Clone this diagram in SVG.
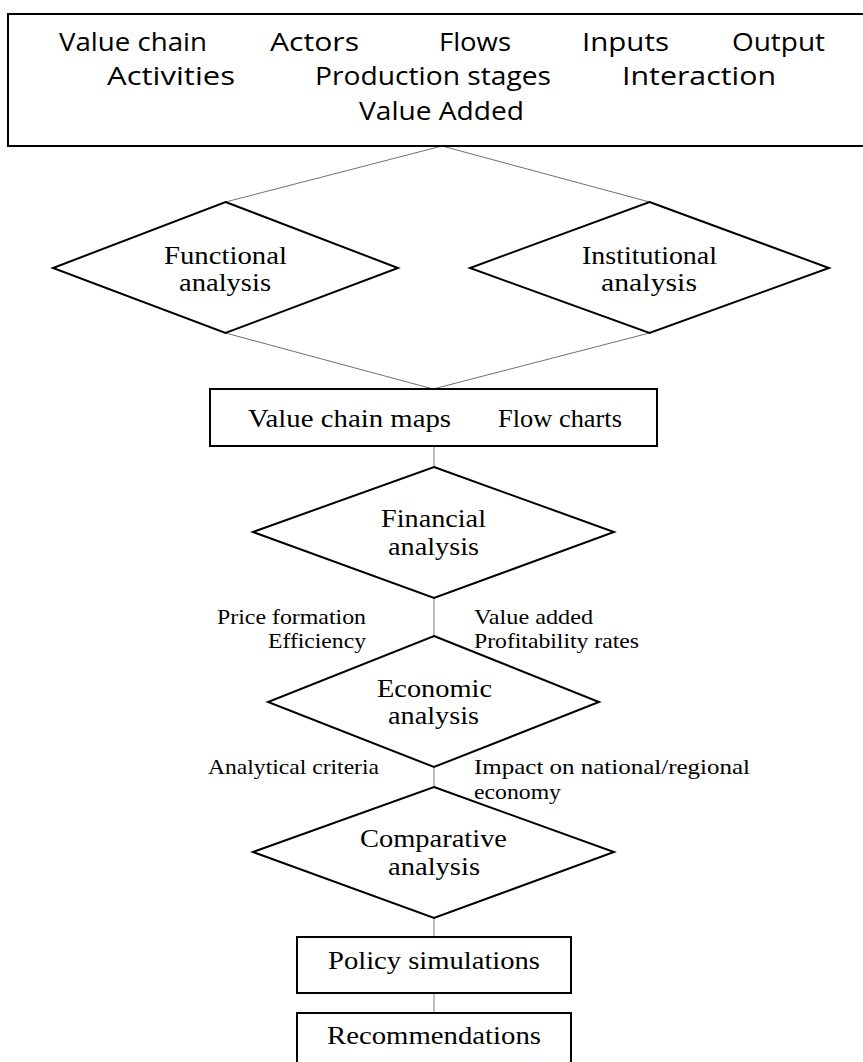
<svg xmlns="http://www.w3.org/2000/svg" width="863" height="1062" viewBox="0 0 863 1062">
  <style>
    .shape { fill: #ffffff; stroke: #000000; stroke-width: 2; }
    .hand { font-family: "Open Sans", "Liberation Sans", sans-serif; font-size: 26px; fill: #000; }
    .node { font-family: "Liberation Serif", "Times New Roman", serif; font-size: 26px; fill: #000; }
    .note { font-family: "Liberation Serif", "Times New Roman", serif; font-size: 21px; fill: #000; }
    .link { stroke: #707070; stroke-width: 1; fill: none; }
    .stem { stroke: #a8a8a8; stroke-width: 1.5; fill: none; }
  </style>

  <rect width="863" height="1062" fill="#ffffff"/>

  <!-- connectors -->
  <g id="connectors">
    <line class="link" x1="442" y1="146" x2="225.5" y2="202"/>
    <line class="link" x1="442" y1="146" x2="649.5" y2="202"/>
    <line class="link" x1="225.5" y1="333" x2="433" y2="389"/>
    <line class="link" x1="649.5" y1="333" x2="433" y2="389"/>
    <line class="stem" x1="434" y1="446" x2="434" y2="467"/>
    <line class="stem" x1="434" y1="598" x2="434" y2="636"/>
    <line class="stem" x1="434" y1="767" x2="434" y2="787"/>
    <line class="stem" x1="434" y1="918" x2="434" y2="937"/>
    <line class="stem" x1="434" y1="993" x2="434" y2="1013"/>
  </g>

  <!-- concepts box -->
  <g id="concepts">
    <rect class="shape" x="8" y="14" width="870" height="132"/>
    <text class="hand" x="59" y="51" textLength="148" lengthAdjust="spacingAndGlyphs">Value chain</text>
    <text class="hand" x="270" y="51" textLength="89" lengthAdjust="spacingAndGlyphs">Actors</text>
    <text class="hand" x="439" y="51" textLength="72" lengthAdjust="spacingAndGlyphs">Flows</text>
    <text class="hand" x="582" y="51" textLength="87" lengthAdjust="spacingAndGlyphs">Inputs</text>
    <text class="hand" x="732" y="51" textLength="93" lengthAdjust="spacingAndGlyphs">Output</text>
    <text class="hand" x="107" y="85" textLength="128" lengthAdjust="spacingAndGlyphs">Activities</text>
    <text class="hand" x="315" y="85" textLength="236" lengthAdjust="spacingAndGlyphs">Production stages</text>
    <text class="hand" x="622" y="85" textLength="154" lengthAdjust="spacingAndGlyphs">Interaction</text>
    <text class="hand" x="359" y="120" textLength="165" lengthAdjust="spacingAndGlyphs">Value Added</text>
  </g>

  <!-- functional analysis -->
  <g id="functional">
    <polygon class="shape" points="225.5,202 398,268 225.5,333 53,268"/>
    <text class="node" x="164" y="264" textLength="123" lengthAdjust="spacingAndGlyphs">Functional</text>
    <text class="node" x="179" y="291" textLength="92" lengthAdjust="spacingAndGlyphs">analysis</text>
  </g>

  <!-- institutional analysis -->
  <g id="institutional">
    <polygon class="shape" points="649.5,202 829,268 649.5,333 470,268"/>
    <text class="node" x="582" y="264" textLength="135" lengthAdjust="spacingAndGlyphs">Institutional</text>
    <text class="node" x="601" y="291" textLength="96" lengthAdjust="spacingAndGlyphs">analysis</text>
  </g>

  <!-- maps and charts -->
  <g id="maps">
    <rect class="shape" x="210" y="389" width="447" height="57"/>
    <text class="node" x="248" y="427" textLength="203" lengthAdjust="spacingAndGlyphs">Value chain maps</text>
    <text class="node" x="498" y="427" textLength="124" lengthAdjust="spacingAndGlyphs">Flow charts</text>
  </g>

  <!-- financial analysis -->
  <g id="financial">
    <polygon class="shape" points="434,467 614,532 434,598 253,532"/>
    <text class="node" x="381" y="527" textLength="105" lengthAdjust="spacingAndGlyphs">Financial</text>
    <text class="node" x="388" y="555" textLength="91" lengthAdjust="spacingAndGlyphs">analysis</text>
  </g>

  <!-- notes between financial and economic -->
  <g id="financial-notes">
    <text class="note" x="217" y="624" textLength="149" lengthAdjust="spacingAndGlyphs">Price formation</text>
    <text class="note" x="268" y="648" textLength="98" lengthAdjust="spacingAndGlyphs">Efficiency</text>
    <text class="note" x="474" y="624" textLength="119" lengthAdjust="spacingAndGlyphs">Value added</text>
    <text class="note" x="474" y="648" textLength="165" lengthAdjust="spacingAndGlyphs">Profitability rates</text>
  </g>

  <!-- economic analysis -->
  <g id="economic">
    <polygon class="shape" points="434,636 599,702 434,767 268,702"/>
    <text class="node" x="377" y="697" textLength="115" lengthAdjust="spacingAndGlyphs">Economic</text>
    <text class="node" x="388" y="724" textLength="91" lengthAdjust="spacingAndGlyphs">analysis</text>
  </g>

  <!-- notes between economic and comparative -->
  <g id="economic-notes">
    <text class="note" x="208" y="774" textLength="171" lengthAdjust="spacingAndGlyphs">Analytical criteria</text>
    <text class="note" x="474" y="774" textLength="276" lengthAdjust="spacingAndGlyphs">Impact on national/regional</text>
    <text class="note" x="474" y="799" textLength="87" lengthAdjust="spacingAndGlyphs">economy</text>
  </g>

  <!-- comparative analysis -->
  <g id="comparative">
    <polygon class="shape" points="434,787 614,852 434,918 253,852"/>
    <text class="node" x="360" y="847" textLength="147" lengthAdjust="spacingAndGlyphs">Comparative</text>
    <text class="node" x="388" y="875" textLength="92" lengthAdjust="spacingAndGlyphs">analysis</text>
  </g>

  <!-- policy simulations -->
  <g id="policy">
    <rect class="shape" x="297" y="937" width="274" height="56"/>
    <text class="node" x="328" y="969" textLength="212" lengthAdjust="spacingAndGlyphs">Policy simulations</text>
  </g>

  <!-- recommendations -->
  <g id="recommendations">
    <rect class="shape" x="297" y="1013" width="274" height="70"/>
    <text class="node" x="327" y="1044" textLength="214" lengthAdjust="spacingAndGlyphs">Recommendations</text>
  </g>
</svg>
